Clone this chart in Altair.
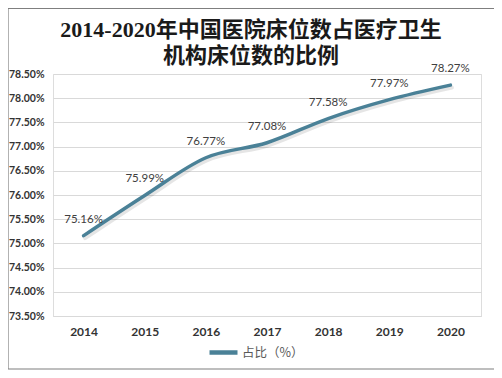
import altair as alt
import pandas as pd

years = ["2014", "2015", "2016", "2017", "2018", "2019", "2020"]
shares = [75.16, 75.99, 76.77, 77.08, 77.58, 77.97, 78.27]
labels = ["75.16%", "75.99%", "76.77%", "77.08%", "77.58%", "77.97%", "78.27%"]
series = "占比（%）"
title_lines = ["2014-2020年中国医院床位数占医疗卫生", "机构床位数的比例"]

df = pd.DataFrame({"year": years, "share": shares, "label": labels, "series": series})

LINE_COLOR = "#4A8197"

x = alt.X("year:N", sort=years, title=None,
          scale=alt.Scale(paddingInner=0, paddingOuter=0.5),
          axis=alt.Axis(labelAngle=0, labelFont="Lato", labelFontWeight="bold",
                        labelFontSize=12, labelColor="#333333", labelPadding=10,
                        ticks=False, domain=True, domainColor="#D9D9D9", grid=False))
y = alt.Y("share:Q", title=None,
          scale=alt.Scale(domain=[73.5, 78.5], nice=False, zero=False),
          axis=alt.Axis(values=[73.5, 74.0, 74.5, 75.0, 75.5, 76.0, 76.5, 77.0, 77.5, 78.0, 78.5],
                        labelExpr="format(datum.value, '.2f') + '%'",
                        labelFont="Lato", labelFontWeight="bold", labelFontSize=10.5,
                        labelColor="#333333", labelPadding=9, ticks=False, domain=False,
                        grid=True, gridColor="#D9D9D9", gridWidth=1))

base = alt.Chart(df)

shadow = base.mark_line(interpolate="monotone", strokeWidth=4, color="#000000",
                        opacity=0.1, xOffset=1.5, yOffset=2.5, strokeCap="round").encode(x=x, y=y)

line = base.mark_line(interpolate="monotone", strokeWidth=3.5, strokeCap="round").encode(
    x=x, y=y,
    color=alt.Color("series:N", scale=alt.Scale(range=[LINE_COLOR]),
                    legend=alt.Legend(title=None, orient="none", legendX=154, legendY=262,
                                      symbolType="stroke", symbolSize=784, symbolStrokeWidth=4.5,
                                      labelFont="Noto Sans CJK SC", labelFontSize=12.5,
                                      labelColor="#595959", labelOffset=2))
)

text = base.mark_text(dy=-16, font="Lato", fontSize=11.5, color="#404040").encode(
    x=x, y=y, text="label:N")

frame = alt.Chart(pd.DataFrame({"a": [0]})).mark_rect(
    fill=None, stroke="#7F7F7F", strokeWidth=1.2, clip=False).encode(
    x=alt.value(-45), x2=alt.value(444), y=alt.value(-65.5), y2=alt.value(295))

title1 = alt.Chart(pd.DataFrame({"t": [title_lines[0]]})).mark_text(
    font="Liberation Serif, Noto Sans CJK SC", fontSize=22, fontWeight="bold",
    color="#1a1a1a", align="center", baseline="middle", clip=False).encode(
    x=alt.value(198), y=alt.value(-44.5), text="t:N")
title2 = alt.Chart(pd.DataFrame({"t": [title_lines[1]]})).mark_text(
    font="Liberation Serif, Noto Sans CJK SC", fontSize=22, fontWeight="bold",
    color="#1a1a1a", align="center", baseline="middle", clip=False).encode(
    x=alt.value(198), y=alt.value(-18.5), text="t:N")

chart = alt.layer(frame, shadow, line, text, title1, title2).properties(
    width=428, height=242,
    autosize=alt.AutoSizeParams(type="none"),
    padding={"left": 45, "top": 66, "right": 13, "bottom": 54},
).configure_view(stroke=None).configure(background="white")

chart.save("out.html", embed_options={"renderer": "svg", "actions": False})
